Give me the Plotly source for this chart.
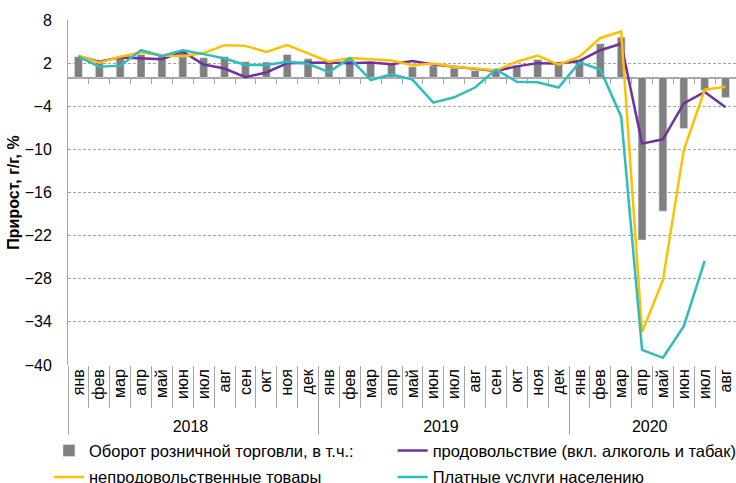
import plotly.graph_objects as go

# ---- data ----
years = ["2018"] * 12 + ["2019"] * 12 + ["2020"] * 8
month_names = ["янв", "фев", "мар", "апр", "май", "июн", "июл", "авг", "сен", "окт", "ноя", "дек"]
months = month_names + month_names + month_names[:8]

retail = [2.9, 2.1, 2.8, 3.2, 3.0, 3.45, 2.75, 2.9, 2.2, 2.15, 3.2, 2.6,
          2.1, 2.4, 2.1, 2.0, 1.5, 1.6, 1.3, 0.95, 0.9, 1.7, 2.5, 1.85,
          2.5, 4.7, 5.6, -22.6, -18.6, -7.1, -1.8, -2.8]
food = [2.95, 2.2, 2.8, 2.65, 2.55, 3.6, 1.8, 1.25, 0.05, 0.7, 2.0, 2.05,
        2.1, 2.0, 2.1, 1.85, 2.3, 1.8, 1.55, 1.2, 0.9, 1.55, 2.0, 1.95,
        2.3, 3.8, 4.7, -9.2, -8.6, -3.6, -2.0, -4.15]
nonfood = [3.05, 2.05, 2.9, 3.5, 3.05, 2.95, 3.4, 4.5, 4.4, 3.55, 4.5, 3.4,
           2.2, 2.7, 2.55, 2.35, 1.7, 1.95, 1.5, 1.25, 1.0, 2.2, 3.05, 1.8,
           2.9, 5.5, 6.4, -35.4, -28.2, -10.1, -1.7, -1.3]
services = [2.9, 1.5, 1.65, 3.8, 3.0, 3.8, 3.25, 2.65, 1.75, 1.75, 2.2, 1.9,
            0.75, 2.7, -0.35, 0.45, -0.3, -3.5, -2.75, -1.4, 1.1, -0.6, -0.65, -1.4,
            2.1, 1.1, -5.45, -37.9, -39.0, -34.6, -25.5, None]

y_ticks = [8, 2, -4, -10, -16, -22, -28, -34, -40]

names = ["Оборот розничной торговли, в т.ч.:",
         "продовольствие (вкл. алкоголь и табак)",
         "непродовольственные товары",
         "Платные услуги населению"]

FONT = "Liberation Sans, Arial, sans-serif"
GRID = "#a6a6a6"

x = [years, months]
n = len(months)
y_min, y_max = min(y_ticks), max(y_ticks)

fig = go.Figure()
fig.add_trace(go.Bar(x=x, y=retail, name=names[0], marker_color="#808080",
                     width=0.38, legend="legend", legendgroup="a"))
fig.add_trace(go.Scatter(x=x, y=food, name=names[1], mode="lines",
                         line=dict(color="#7030A0", width=2.5),
                         legend="legend2", legendgroup="b"))
fig.add_trace(go.Scatter(x=x, y=nonfood, name=names[2], mode="lines",
                         line=dict(color="#FFC000", width=2.5),
                         legend="legend", legendgroup="c"))
fig.add_trace(go.Scatter(x=x, y=services, name=names[3], mode="lines",
                         line=dict(color="#2EBDBA", width=2.5),
                         legend="legend2", legendgroup="d"))
# helper trace to carry the zero-line tick axis
fig.add_trace(go.Scatter(x=list(range(n)), y=retail, xaxis="x2", mode="markers",
                         marker=dict(opacity=0), showlegend=False, hoverinfo="skip"))

fig.update_layout(
    width=736, height=483,
    margin=dict(l=68, r=0, t=20, b=118, autoexpand=False),
    paper_bgcolor="white", plot_bgcolor="white",
    font=dict(family=FONT, size=15, color="#000000"),
    bargap=0.6,
    xaxis=dict(
        type="multicategory", range=[-0.5, n - 0.5],
        tickangle=-90, tickfont=dict(size=16),
        ticks="outside", ticklen=42, tickcolor=GRID, tickwidth=1,
        showdividers=True, dividercolor=GRID, dividerwidth=1,
        showgrid=False, showline=False, zeroline=False,
    ),
    xaxis2=dict(
        overlaying="x", anchor="free",
        position=(0 - y_min) / (y_max - y_min),
        range=[-0.5, n - 0.5],
        tickvals=[i + 0.5 for i in range(n - 1)],
        ticks="outside", ticklen=5, tickcolor=GRID, tickwidth=1,
        showticklabels=False, showgrid=False, showline=False, zeroline=False,
    ),
    yaxis=dict(
        range=[y_min, y_max], tickvals=y_ticks,
        tickfont=dict(size=16), ticklabelstandoff=12,
        showgrid=True, gridcolor=GRID, griddash="3px,2px", gridwidth=1,
        zeroline=True, zerolinecolor=GRID, zerolinewidth=1.5,
        showline=True, linecolor=GRID, linewidth=1,
        title=dict(text="<b>Прирост, г/г, %</b>", font=dict(size=16), standoff=1),
    ),
    legend=dict(orientation="v", x=-0.0285, xanchor="left", y=-0.198, yanchor="top",
                font=dict(size=16.5), tracegroupgap=2, bgcolor="rgba(0,0,0,0)"),
    legend2=dict(orientation="v", x=0.486, xanchor="left", y=-0.198, yanchor="top",
                 font=dict(size=16.5), tracegroupgap=2, bgcolor="rgba(0,0,0,0)"),
    showlegend=True,
)

fig.write_html("out.html", config={"displayModeBar": False},
               post_script="document.body.style.margin='0';")
